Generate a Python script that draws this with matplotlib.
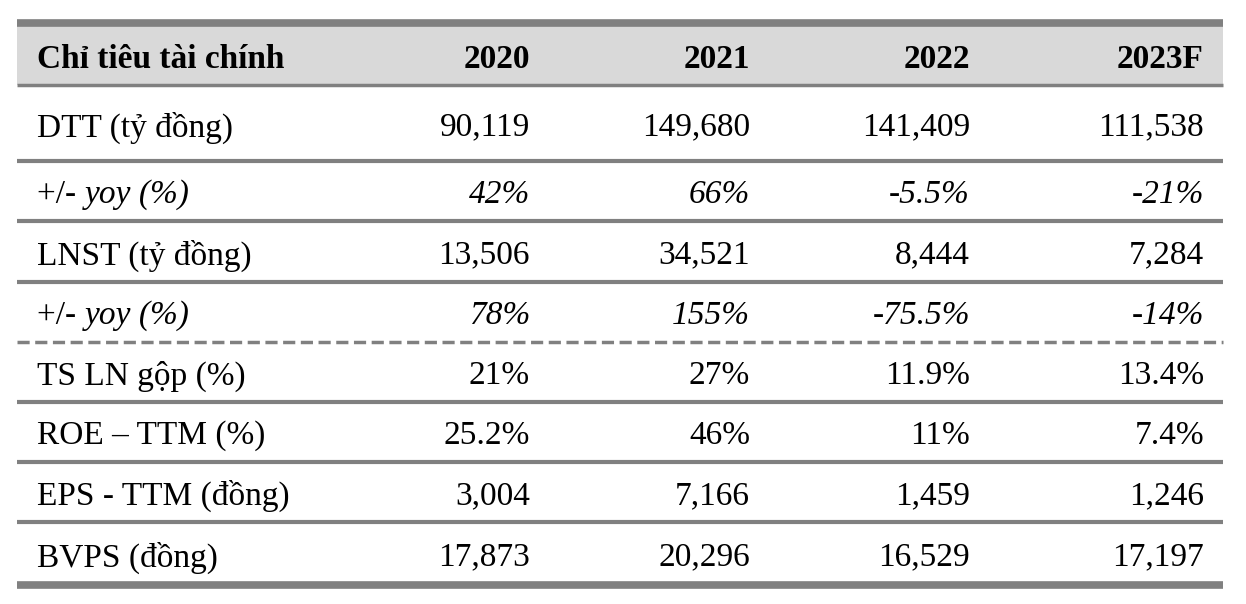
import matplotlib.pyplot as plt

# -------------------------
# Table data
# -------------------------

header_label = "Chỉ tiêu tài chính"
years = ["2020", "2021", "2022", "2023F"]

row_labels = [
    "DTT (tỷ đồng)",
    "+/- yoy (%)",
    "LNST (tỷ đồng)",
    "+/- yoy (%)",
    "TS LN gộp (%)",
    "ROE – TTM (%)",
    "EPS - TTM (đồng)",
    "BVPS (đồng)",
]

dtt = ["90,119", "149,680", "141,409", "111,538"]
dtt_yoy = ["42%", "66%", "-5.5%", "-21%"]
lnst = ["13,506", "34,521", "8,444", "7,284"]
lnst_yoy = ["78%", "155%", "-75.5%", "-14%"]
gross_margin = ["21%", "27%", "11.9%", "13.4%"]
roe = ["25.2%", "46%", "11%", "7.4%"]
eps = ["3,004", "7,166", "1,459", "1,246"]
bvps = ["17,873", "20,296", "16,529", "17,197"]

rows = [dtt, dtt_yoy, lnst, lnst_yoy, gross_margin, roe, eps, bvps]
italic_rows = [1, 3]

# -------------------------
# Layout (pixels)
# -------------------------

W, H = 1246, 604
x_left, x_right = 17, 1223
label_x = 37
col_right = [530, 750, 970, 1204]
row_lines = [86, 161, 221, 282, 342, 402, 462, 522, 585]
grey = "#808080"

fig = plt.figure(figsize=(W / 100, H / 100), dpi=100)
ax = fig.add_axes([0, 0, 1, 1])
ax.set_xlim(0, W)
ax.set_ylim(H, 0)
ax.axis("off")

font = {"family": ["Liberation Serif", "DejaVu Serif"], "size": 24, "color": "black"}

# header band
ax.fill_between([x_left, x_right], 23, 85, color="#d9d9d9", lw=0)
ax.plot([x_left, x_right], [22.5, 22.5], color=grey, lw=5.5, solid_capstyle="butt")
ax.plot([x_left, x_right], [85, 85], color=grey, lw=2.5, solid_capstyle="butt")

ax.text(label_x, 59, header_label, ha="left", va="center", fontweight="bold", **font)
for x, y in zip(col_right, years):
    ax.text(x, 59, y, ha="right", va="center", fontweight="bold", **font)

# row separators
for i, y in enumerate(row_lines[1:]):
    if i == 3:
        ax.plot([x_left, x_right], [y, y], color=grey, lw=2.5, ls=(0, (3.5, 1.6)))
    elif i == len(row_lines) - 2:
        ax.plot([x_left, x_right], [y, y], color=grey, lw=5.5, solid_capstyle="butt")
    else:
        ax.plot([x_left, x_right], [y, y], color=grey, lw=3, solid_capstyle="butt")

# rows
for i, (label, vals) in enumerate(zip(row_labels, rows)):
    yc = (row_lines[i] + row_lines[i + 1]) / 2 + 4
    style = "italic" if i in italic_rows else "normal"
    if i in italic_rows:
        t = ax.text(label_x, yc, "+/- ", ha="left", va="center", **font)
        ax.annotate(label[4:], xy=(1, 0), xycoords=t, ha="left", va="bottom",
                    fontstyle="italic", **font)
    else:
        ax.text(label_x, yc, label, ha="left", va="center", **font)
    for x, v in zip(col_right, vals):
        ax.text(x, yc, v, ha="right", va="center", fontstyle=style, **font)

fig.savefig("out.png", dpi=100, facecolor="white")
